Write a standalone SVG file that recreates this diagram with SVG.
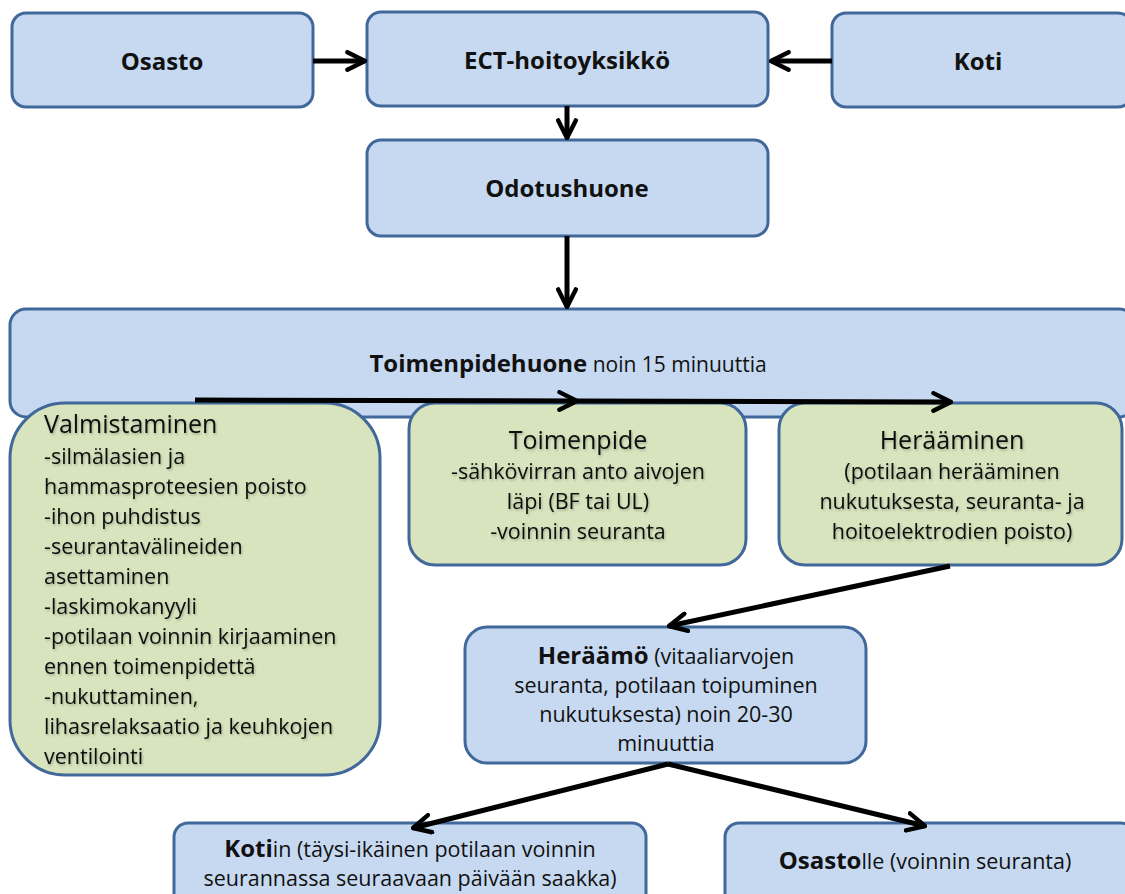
<svg xmlns="http://www.w3.org/2000/svg" width="1125" height="894" viewBox="0 0 1125 894">
<style>
.blue{fill:#c6d9f1;stroke:#41689a;stroke-width:3}
.green{fill:#d7e4bd;stroke:#41689a;stroke-width:3}
text{font-family:"Open Sans","Noto Sans",sans-serif;fill:#111}
.b{font-weight:bold}
.hd{font-size:24px;font-weight:bold;text-anchor:middle}
.t{font-size:21.5px}
.c{text-anchor:middle}
.gt{font-size:25px}
.sh{filter:url(#ts)}
.conn{stroke:#000;stroke-width:5;fill:none;marker-end:url(#ah)}
</style>
<defs>
<marker id="ah" viewBox="0 0 10 10" refX="9" refY="5" markerWidth="4.4" markerHeight="4.4" orient="auto" markerUnits="strokeWidth">
<path d="M1,1 L9,5 L1,9" fill="none" stroke="#000" stroke-width="2" stroke-linecap="round" stroke-linejoin="round"/>
</marker>
<filter id="ts" x="-5%" y="-20%" width="110%" height="140%"><feDropShadow dx="1" dy="1.5" stdDeviation="0.8" flood-color="#000" flood-opacity="0.25"/></filter>
</defs>
<rect width="1125" height="894" fill="#fff"/>
<g id="osasto"><rect class="blue" x="12" y="13" width="301" height="94" rx="14"/><text class="hd" x="162" y="70">Osasto</text></g>
<g id="ect"><rect class="blue" x="367" y="12" width="401" height="94" rx="14"/><text class="hd" x="567" y="69">ECT-hoitoyksikkö</text></g>
<g id="koti"><rect class="blue" x="832" y="13" width="300" height="94" rx="14"/><text class="hd" x="978" y="70">Koti</text></g>
<g id="odotushuone"><rect class="blue" x="367" y="140" width="401" height="96" rx="14"/><text class="hd" x="567" y="197">Odotushuone</text></g>
<g id="toimenpidehuone"><rect class="blue" x="10" y="309" width="1125" height="108" rx="16"/><text x="568" y="372" class="c"><tspan class="b" font-size="24">Toimenpidehuone</tspan><tspan font-size="21"> noin 15 minuuttia</tspan></text></g>
<g id="valmistaminen"><rect class="green" x="10" y="403" width="370" height="372" rx="55"/>
<g class="sh"><text class="gt" x="44" y="433">Valmistaminen</text>
<text class="t" x="44"><tspan x="44" y="464">-silmälasien ja</tspan><tspan x="44" y="494">hammasproteesien poisto</tspan><tspan x="44" y="524">-ihon puhdistus</tspan><tspan x="44" y="554">-seurantavälineiden</tspan><tspan x="44" y="584">asettaminen</tspan><tspan x="44" y="614">-laskimokanyyli</tspan><tspan x="44" y="644">-potilaan voinnin kirjaaminen</tspan><tspan x="44" y="674">ennen toimenpidettä</tspan><tspan x="44" y="704">-nukuttaminen,</tspan><tspan x="44" y="734">lihasrelaksaatio ja keuhkojen</tspan><tspan x="44" y="764">ventilointi</tspan></text></g></g>
<g id="toimenpide"><rect class="green" x="409" y="403" width="337" height="162" rx="26"/>
<g class="sh"><text class="gt c" x="578" y="449">Toimenpide</text>
<text class="t c"><tspan x="578" y="479">-sähkövirran anto aivojen</tspan><tspan x="578" y="509">läpi (BF tai UL)</tspan><tspan x="578" y="539">-voinnin seuranta</tspan></text></g></g>
<g id="heraaminen"><rect class="green" x="779" y="403" width="343" height="162" rx="26"/>
<g class="sh"><text class="gt c" x="952" y="449">Herääminen</text>
<text class="t c"><tspan x="952" y="479">(potilaan herääminen</tspan><tspan x="952" y="509">nukutuksesta, seuranta- ja</tspan><tspan x="952" y="539">hoitoelektrodien poisto)</tspan></text></g></g>
<g id="heraamo"><rect class="blue" x="465" y="627" width="401" height="136" rx="22"/>
<text class="t c"><tspan x="666" y="664"><tspan class="b" font-size="24">Heräämö</tspan> (vitaaliarvojen</tspan><tspan x="666" y="693">seuranta, potilaan toipuminen</tspan><tspan x="666" y="722">nukutuksesta) noin 20-30</tspan><tspan x="666" y="751">minuuttia</tspan></text></g>
<g id="kotiin"><rect class="blue" x="174" y="823" width="472" height="90" rx="14"/>
<text class="t c"><tspan x="410" y="857"><tspan class="b" font-size="24">Koti</tspan>in (täysi-ikäinen potilaan voinnin</tspan><tspan x="410" y="886">seurannassa seuraavaan päivään saakka)</tspan></text></g>
<g id="osastolle"><rect class="blue" x="725" y="823" width="410" height="90" rx="14"/>
<text class="t c" x="925" y="869"><tspan class="b" font-size="24">Osasto</tspan>lle (voinnin seuranta)</text></g>
<g id="connectors">
<line class="conn" x1="313" y1="61" x2="365" y2="61"/>
<line class="conn" x1="832" y1="61" x2="771" y2="61"/>
<line class="conn" x1="567" y1="106" x2="567" y2="138"/>
<line class="conn" x1="567" y1="236" x2="567" y2="307"/>
<line class="conn" x1="195" y1="400" x2="577" y2="401"/>
<line class="conn" x1="577" y1="401" x2="951" y2="402"/>
<line class="conn" x1="950" y1="566" x2="669" y2="626"/>
<line class="conn" x1="668" y1="764" x2="413" y2="828"/>
<line class="conn" x1="668" y1="764" x2="925" y2="826"/>
</g>
</svg>
